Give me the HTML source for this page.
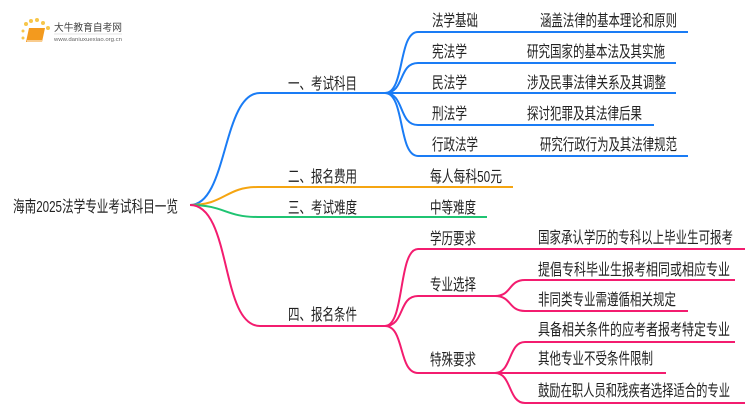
<!DOCTYPE html>
<html><head><meta charset="utf-8"><style>
html,body{margin:0;padding:0;background:#fff;}
svg{display:block;}
text{font-family:"Liberation Sans","Noto Sans CJK SC",sans-serif;font-size:16px;fill:#222;}
</style></head><body>
<svg width="750" height="410" viewBox="0 0 750 410" xmlns="http://www.w3.org/2000/svg">
<g>
<circle cx="23" cy="31" r="1.5" fill="#f7c64a"/><circle cx="26" cy="24" r="2" fill="#f7c64a"/><circle cx="31" cy="21" r="2" fill="#f7c64a"/><circle cx="37" cy="20" r="2" fill="#f7c64a"/><circle cx="43" cy="23" r="2" fill="#f7c64a"/><circle cx="48" cy="28" r="2" fill="#f7c64a"/><circle cx="23" cy="38" r="1.5" fill="#f7c64a"/>
<path d="M29 28 L45 28 L42 42 L26 42 Z" fill="#f39a1e"/>
<path d="M27 41 L42 41" stroke="#fff" stroke-width="1"/>
<text x="54" y="31" style="font-size:10px;fill:#444" textLength="68" lengthAdjust="spacingAndGlyphs">大牛教育自考网</text>
<line x1="54" y1="34" x2="122" y2="34" stroke="#ccc" stroke-width="0.5"/>
<text x="54" y="41" style="font-size:5px;fill:#666" textLength="68" lengthAdjust="spacingAndGlyphs">www.daniuxuexiao.org.cn</text>
</g>
<g fill="none" stroke-width="2">
<path d="M190 205 C228 205 222 93 260 93 L385 93" stroke="#1a7cf5"/>
<path d="M190 205 C225 205 225 187 258 187 L513 187" stroke="#f5a511"/>
<path d="M190 205 C225 205 225 217 258 217 L487 217" stroke="#1fc472"/>
<path d="M190 205 C232 205 220 326 260 326 L385 326" stroke="#f31c6f"/>
<g stroke="#1a7cf5">
<path d="M385 93 C405 93 398 32 418 32 L688 32"/>
<path d="M385 93 C405 93 398 63 418 63 L676 63"/>
<path d="M385 93 L676 93"/>
<path d="M385 93 C405 93 398 125 418 125 L654 125"/>
<path d="M385 93 C405 93 398 156 418 156 L688 156"/>
</g>
<g stroke="#f31c6f">
<path d="M385 326 C405 326 398 249 418 249 L745 249"/>
<path d="M385 326 C405 326 398 296 418 296 L495 296"/>
<path d="M385 326 C405 326 398 373 418 373 L495 373"/>
<path d="M495 296 C512 296 508 280 525 280 L735 280"/>
<path d="M495 296 C512 296 508 311 525 311 L688 311"/>
<path d="M495 373 C512 373 508 342 525 342 L735 342"/>
<path d="M495 373 L666 373"/>
<path d="M495 373 C512 373 508 403 525 403 L745 403"/>
</g>
</g>
<g>
<text x="13" y="212" textLength="165" lengthAdjust="spacingAndGlyphs">海南2025法学专业考试科目一览</text>
<text x="288" y="89" textLength="69" lengthAdjust="spacingAndGlyphs">一、考试科目</text>
<text x="288" y="182" textLength="69" lengthAdjust="spacingAndGlyphs">二、报名费用</text>
<text x="288" y="213" textLength="69" lengthAdjust="spacingAndGlyphs">三、考试难度</text>
<text x="288" y="320" textLength="69" lengthAdjust="spacingAndGlyphs">四、报名条件</text>

<text x="432" y="26" textLength="46" lengthAdjust="spacingAndGlyphs">法学基础</text>
<text x="432" y="57" textLength="35" lengthAdjust="spacingAndGlyphs">宪法学</text>
<text x="432" y="88" textLength="35" lengthAdjust="spacingAndGlyphs">民法学</text>
<text x="432" y="119" textLength="35" lengthAdjust="spacingAndGlyphs">刑法学</text>
<text x="432" y="150" textLength="46" lengthAdjust="spacingAndGlyphs">行政法学</text>
<text x="540" y="26" textLength="137" lengthAdjust="spacingAndGlyphs">涵盖法律的基本理论和原则</text>
<text x="527" y="57" textLength="138" lengthAdjust="spacingAndGlyphs">研究国家的基本法及其实施</text>
<text x="527" y="88" textLength="139" lengthAdjust="spacingAndGlyphs">涉及民事法律关系及其调整</text>
<text x="527" y="119" textLength="115" lengthAdjust="spacingAndGlyphs">探讨犯罪及其法律后果</text>
<text x="540" y="150" textLength="137" lengthAdjust="spacingAndGlyphs">研究行政行为及其法律规范</text>

<text x="430" y="182" textLength="72" lengthAdjust="spacingAndGlyphs">每人每科50元</text>
<text x="430" y="213" textLength="46" lengthAdjust="spacingAndGlyphs">中等难度</text>

<text x="430" y="244" textLength="46" lengthAdjust="spacingAndGlyphs">学历要求</text>
<text x="430" y="290" textLength="46" lengthAdjust="spacingAndGlyphs">专业选择</text>
<text x="430" y="365" textLength="46" lengthAdjust="spacingAndGlyphs">特殊要求</text>
<text x="538" y="243" textLength="195" lengthAdjust="spacingAndGlyphs">国家承认学历的专科以上毕业生可报考</text>
<text x="538" y="275" textLength="192" lengthAdjust="spacingAndGlyphs">提倡专科毕业生报考相同或相应专业</text>
<text x="538" y="305" textLength="138" lengthAdjust="spacingAndGlyphs">非同类专业需遵循相关规定</text>
<text x="538" y="335" textLength="192" lengthAdjust="spacingAndGlyphs">具备相关条件的应考者报考特定专业</text>
<text x="538" y="364" textLength="115" lengthAdjust="spacingAndGlyphs">其他专业不受条件限制</text>
<text x="538" y="396" textLength="192" lengthAdjust="spacingAndGlyphs">鼓励在职人员和残疾者选择适合的专业</text>
</g>
</svg>
</body></html>
